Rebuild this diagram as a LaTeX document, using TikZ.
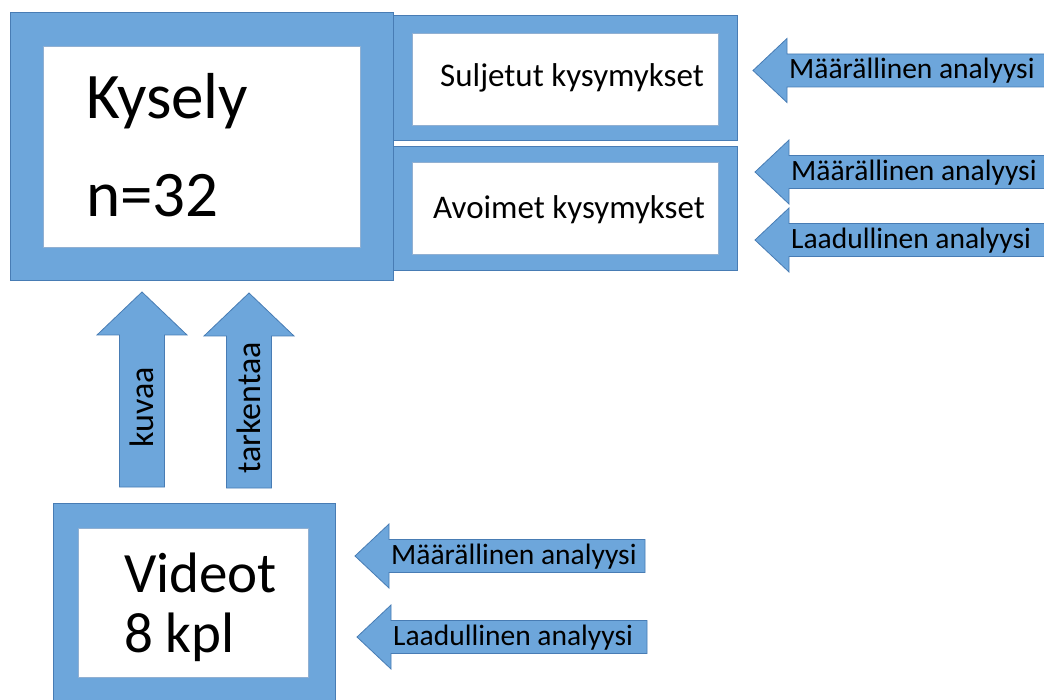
\documentclass[tikz,border=0pt]{standalone}
\usepackage{fontspec}
\setmainfont{Carlito}
\usetikzlibrary{calc}
\definecolor{boxblue}{RGB}{109,166,219}
\definecolor{boxedge}{RGB}{72,124,180}
\tikzset{
  outer/.style={draw=boxedge,line width=0.8pt,fill=boxblue,anchor=north west,inner sep=0pt},
  inner/.style={draw=boxedge!60,line width=0.6pt,fill=white,anchor=north west,inner sep=0pt},
  blk/.style={draw=boxedge,line width=0.8pt,fill=boxblue,line join=miter},
  big/.style={font=\fontsize{65}{98}\selectfont,align=left,inner sep=0pt},
  boxtxt/.style={font=\fontsize{33}{38}\selectfont,inner sep=0pt},
  lbl/.style={font=\fontsize{29.5}{34}\selectfont,inner sep=0pt}
}
\newcommand{\arrowL}[4]{
  \coordinate (T) at #1;
  \draw[blk] (T) -- ++(34,-32) -- ++(0,15.5) -- ++(#2,0) -- ++(0,33)
    -- ++(-#2,0) -- ++(0,15.5) -- cycle;
  \node[lbl,anchor=base west] (#3) at ($(T)+(36,8.5)$) {#4};
}
\newcommand{\arrowU}[3]{
  \coordinate (T) at #1;
  \draw[blk] (T) -- ++(45,43) -- ++(-22.5,0) -- ++(0,152) -- ++(-45,0)
    -- ++(0,-152) -- ++(-22.5,0) -- cycle;
  \node[lbl,font=\fontsize{34}{38}\selectfont,rotate=90] (#2) at ($(T)+(0,115)$) {#3};
}

\begin{document}
\begin{tikzpicture}[x=1pt,y=-1pt]
  \useasboundingbox (0,0) rectangle (1044,700);
  \clip (0,0) rectangle (1044,700);

  % ================= Kysely =================
  \node[outer,minimum width=344pt,minimum height=125pt] (sulOut) at (393,15) {};
  \node[outer,minimum width=344pt,minimum height=124pt] (avoOut) at (393,146) {};
  \node[outer,minimum width=383pt,minimum height=268pt] (kysOut) at (10,12) {};
  \node[inner,minimum width=317pt,minimum height=201pt] (kysIn) at (43,46) {};
  \node[inner,minimum width=306pt,minimum height=92pt] (sulIn) at (412,33) {};
  \node[inner,minimum width=306pt,minimum height=92pt] (avoIn) at (412,162) {};
  \node[big,anchor=base west] (kysTxt) at (86,217) {Kysely\\n=32};
  \node[boxtxt,anchor=base east] (sulTxt) at (704,87) {Suljetut kysymykset};
  \node[boxtxt,anchor=base east] (avoTxt) at (705,219) {Avoimet kysymykset};

  % ================= Videot =================
  \node[outer,minimum width=282pt,minimum height=210pt] (vidOut) at (53,503) {};
  \node[inner,minimum width=230pt,minimum height=149pt] (vidIn) at (78,528) {};
  \node[big,anchor=base west,font=\fontsize{57}{60}\selectfont] (vidTxt) at (124,652) {Videot\\8 kpl};

  % Videot -> Kysely
  \arrowU{(142,292)}{kuvaaLbl}{kuvaa}
  \arrowU{(249,293)}{tarkLbl}{tarkentaa}

  % analyysit
  \arrowL{(753,70.5)}{300}{maaA}{Määrällinen analyysi}
  \arrowL{(755,172)}{300}{maaB}{Määrällinen analyysi}
  \arrowL{(755,240)}{300}{laaB}{Laadullinen analyysi}
  \arrowL{(355,556)}{256}{maaC}{Määrällinen analyysi}
  \arrowL{(357,637)}{256}{laaC}{Laadullinen analyysi}
\end{tikzpicture}
\end{document}
